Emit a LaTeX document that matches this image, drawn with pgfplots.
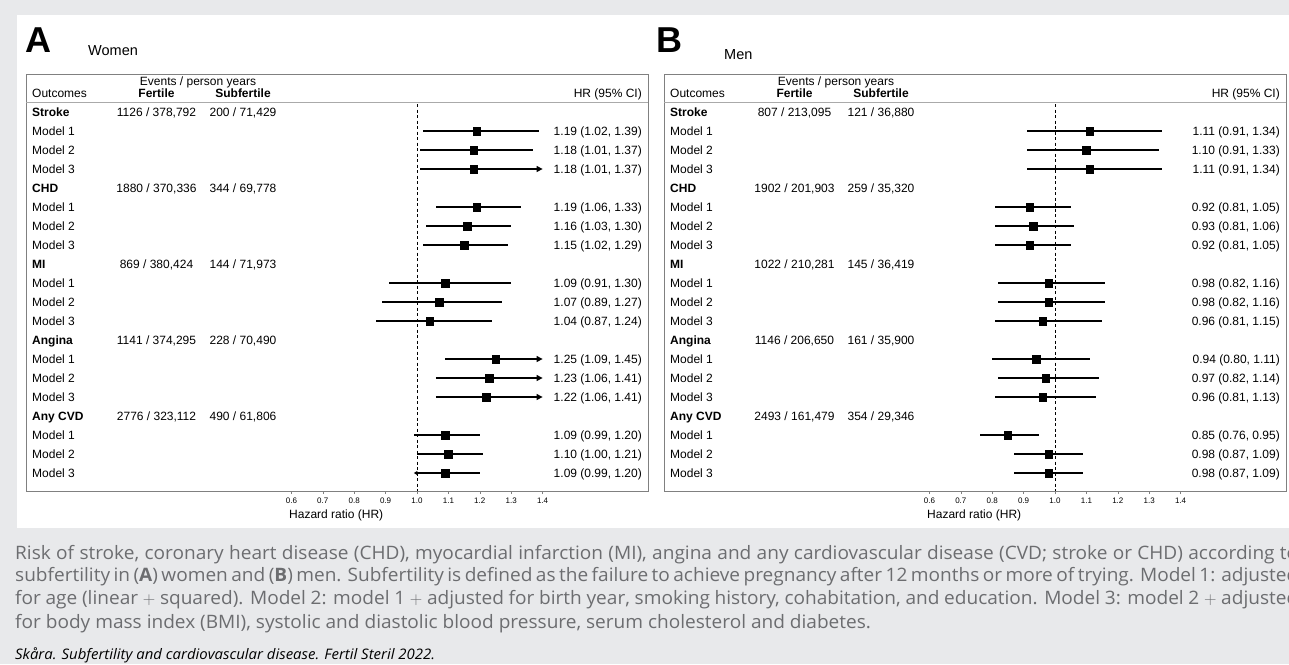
\documentclass[border=0pt]{standalone}
\usepackage{pgfplots}
\pgfplotsset{compat=1.18}
\usepackage{pgfplotstable}
\usepackage{fontspec}
\setmainfont{Liberation Sans}
\newfontfamily\capfont[FakeStretch=1.03]{Open Sans}
\usetikzlibrary{arrows.meta}
\definecolor{bg}{RGB}{232,233,235}
\definecolor{boxgray}{RGB}{128,128,128}
\definecolor{sepgray}{RGB}{170,170,170}
\definecolor{captext}{RGB}{108,109,112}

% ---------- Women (A) ----------
\pgfplotstableread{
y hr lo hi
-1 1.19 1.02 1.39
-2 1.18 1.01 1.37
-3 1.18 1.01 1.37
-5 1.19 1.06 1.33
-6 1.16 1.03 1.30
-7 1.15 1.02 1.29
-9 1.09 0.91 1.30
-10 1.07 0.89 1.27
-11 1.04 0.87 1.24
-13 1.25 1.09 1.45
-14 1.23 1.06 1.41
-15 1.22 1.06 1.41
-17 1.09 0.99 1.20
-18 1.10 1.00 1.21
-19 1.09 0.99 1.20
}\allA
% rows whose CI is drawn as a plain line (others are drawn with arrows)
\pgfplotstableread{
y hr lo hi
-1 1.19 1.02 1.39
-2 1.18 1.01 1.37
-5 1.19 1.06 1.33
-6 1.16 1.03 1.30
-7 1.15 1.02 1.29
-9 1.09 0.91 1.30
-10 1.07 0.89 1.27
-11 1.04 0.87 1.24
-17 1.09 0.99 1.20
-18 1.10 1.00 1.21
}\ciA
% ---------- Men (B) ----------
\pgfplotstableread{
y hr lo hi
-1 1.11 0.91 1.34
-2 1.10 0.91 1.33
-3 1.11 0.91 1.34
-5 0.92 0.81 1.05
-6 0.93 0.81 1.06
-7 0.92 0.81 1.05
-9 0.98 0.82 1.16
-10 0.98 0.82 1.16
-11 0.96 0.81 1.15
-13 0.94 0.80 1.11
-14 0.97 0.82 1.14
-15 0.96 0.81 1.13
-17 0.85 0.76 0.95
-18 0.98 0.87 1.09
-19 0.98 0.87 1.09
}\allB

\pgfplotsset{forest/.style={
  anchor=south west, scale only axis, width=622pt, height=417pt,
  xmin=-0.24522, xmax=1.73567, ymin=-19.947, ymax=2,
  axis line style={draw=boxgray, line width=0.9pt},
  ytick=\empty,
  xtick={0.6,0.7,0.8,0.9,1.0,1.1,1.2,1.3,1.4},
  xticklabels={0.6,0.7,0.8,0.9,1.0,1.1,1.2,1.3,1.4},
  xtick pos=bottom, tick align=outside, major tick length=3pt,
  tick style={draw=boxgray, line width=0.6pt},
  xticklabel style={font=\fontsize{8}{10}\selectfont, yshift=-0.5pt, text=black},
  clip=false,
}}
\pgfplotsset{cibar/.style={only marks, mark=none, forget plot,
  error bars/.cd, x dir=both, x explicit, error mark=none,
  error bar style={black, line width=1.1pt}}}
\pgfplotsset{hrmark/.style={only marks, mark=square*, mark size=3.75pt,
  mark options={fill=black, draw=none}}}
\pgfplotsset{arr/.style={black, line width=1.1pt, -{Triangle[length=6pt,width=6pt]}, forget plot}}
\pgfplotsset{larr/.style={black, line width=1.1pt, {Triangle[length=3.5pt,width=4pt]}-, forget plot}}

\newcommand\TC[3]{\node[anchor=base, inner sep=0pt, font=\fontsize{12}{14}\selectfont] at (#1pt,{(547.7-19*(#2))*1pt}) {#3};}
\newcommand\TR[3]{\node[anchor=base east, inner sep=0pt, font=\fontsize{12}{14}\selectfont] at (#1pt,{(547.7-19*(#2))*1pt}) {#3};}

\begin{document}
\begin{tikzpicture}
\path[use as bounding box, clip] (0,0) rectangle (1289pt,664pt);
\fill[bg] (0,0) rectangle (1289pt,664pt);
\fill[white] (17pt,136pt) rectangle (1300pt,649pt);

% ================= Panel A =================
\begin{axis}[forest, at={(26pt,173pt)}]
\draw[sepgray, line width=0.8pt] (axis cs:-0.24522,0.526) -- (axis cs:1.73567,0.526);
\draw[black, line width=0.8pt, dash pattern=on 3pt off 2.5pt] (axis cs:1,0.42) -- (axis cs:1,-19.947);
\addplot[cibar] table[x=hr, y=y, x error plus expr=\thisrow{hi}-\thisrow{hr}, x error minus expr=\thisrow{hr}-\thisrow{lo}] {\ciA};
\addplot[arr] coordinates {(1.01,-3) (1.40,-3)};
\addplot[arr] coordinates {(1.09,-13) (1.40,-13)};
\addplot[arr] coordinates {(1.06,-14) (1.40,-14)};
\addplot[arr] coordinates {(1.06,-15) (1.40,-15)};
\addplot[larr] coordinates {(0.99,-19) (1.20,-19)};
\addplot[hrmark] table[x=hr, y=y] {\allA};
\end{axis}

% ================= Panel B =================
\begin{axis}[forest, at={(664pt,173pt)}]
\draw[sepgray, line width=0.8pt] (axis cs:-0.24522,0.526) -- (axis cs:1.73567,0.526);
\draw[black, line width=0.8pt, dash pattern=on 3pt off 2.5pt] (axis cs:1,0.42) -- (axis cs:1,-19.947);
\addplot[cibar] table[x=hr, y=y, x error plus expr=\thisrow{hi}-\thisrow{hr}, x error minus expr=\thisrow{hr}-\thisrow{lo}] {\allB};
\addplot[hrmark] table[x=hr, y=y] {\allB};
\end{axis}

% ---------- titles ----------
\node[anchor=base west, inner sep=0pt, font=\fontsize{36}{40}\selectfont\bfseries] at (25pt,611pt) {A};
\node[anchor=base west, inner sep=0pt, font=\fontsize{14.5}{17}\selectfont] at (88pt,608pt) {Women};
\node[anchor=base west, inner sep=0pt, font=\fontsize{36}{40}\selectfont\bfseries] at (656.5pt,611pt) {B};
\node[anchor=base west, inner sep=0pt, font=\fontsize{14.5}{17}\selectfont] at (724pt,604pt) {Men};

% ---------- headers and row labels ----------
\foreach \ox in {0,638} {
  \node[anchor=base, inner sep=0pt, font=\fontsize{12}{14}\selectfont] at ({(198+\ox)*1pt},578pt) {Events / person years};
  \node[anchor=base west, inner sep=0pt, font=\fontsize{12}{14}\selectfont] at ({(32+\ox)*1pt},566.7pt) {Outcomes};
  \node[anchor=base, inner sep=0pt, font=\fontsize{12}{14}\selectfont\bfseries] at ({(156.5+\ox)*1pt},566.7pt) {Fertile};
  \node[anchor=base, inner sep=0pt, font=\fontsize{12}{14}\selectfont\bfseries] at ({(243+\ox)*1pt},566.7pt) {Subfertile};
  \node[anchor=base east, inner sep=0pt, font=\fontsize{12}{14}\selectfont] at ({(642+\ox)*1pt},566.7pt) {HR (95\% CI)};
  \node[anchor=base west, inner sep=0pt, font=\fontsize{12}{14}\selectfont] at ({(289+\ox)*1pt},146pt) {Hazard ratio (HR)};
  \foreach \g/\name in {0/Stroke,4/CHD,8/MI,12/Angina,16/Any CVD} {
    \node[anchor=base west, inner sep=0pt, font=\fontsize{12}{14}\selectfont\bfseries] at ({(32+\ox)*1pt},{(547.7-19*\g)*1pt}) {\name};
    \foreach \m in {1,2,3} {
      \node[anchor=base west, inner sep=0pt, font=\fontsize{12}{14}\selectfont] at ({(32+\ox)*1pt},{(547.7-19*(\g+\m))*1pt}) {Model \m};
    }
  }
}

% ---------- events A ----------
\TC{156.5}{0}{1126 / 378,792}  \TC{243}{0}{200 / 71,429}
\TC{156.5}{4}{1880 / 370,336}  \TC{243}{4}{344 / 69,778}
\TC{156.5}{8}{869 / 380,424}   \TC{243}{8}{144 / 71,973}
\TC{156.5}{12}{1141 / 374,295} \TC{243}{12}{228 / 70,490}
\TC{156.5}{16}{2776 / 323,112} \TC{243}{16}{490 / 61,806}
% ---------- events B ----------
\TC{794.5}{0}{807 / 213,095}   \TC{881}{0}{121 / 36,880}
\TC{794.5}{4}{1902 / 201,903}  \TC{881}{4}{259 / 35,320}
\TC{794.5}{8}{1022 / 210,281}  \TC{881}{8}{145 / 36,419}
\TC{794.5}{12}{1146 / 206,650} \TC{881}{12}{161 / 35,900}
\TC{794.5}{16}{2493 / 161,479} \TC{881}{16}{354 / 29,346}

% ---------- HR text A ----------
\TR{642}{1}{1.19 (1.02, 1.39)}
\TR{642}{2}{1.18 (1.01, 1.37)}
\TR{642}{3}{1.18 (1.01, 1.37)}
\TR{642}{5}{1.19 (1.06, 1.33)}
\TR{642}{6}{1.16 (1.03, 1.30)}
\TR{642}{7}{1.15 (1.02, 1.29)}
\TR{642}{9}{1.09 (0.91, 1.30)}
\TR{642}{10}{1.07 (0.89, 1.27)}
\TR{642}{11}{1.04 (0.87, 1.24)}
\TR{642}{13}{1.25 (1.09, 1.45)}
\TR{642}{14}{1.23 (1.06, 1.41)}
\TR{642}{15}{1.22 (1.06, 1.41)}
\TR{642}{17}{1.09 (0.99, 1.20)}
\TR{642}{18}{1.10 (1.00, 1.21)}
\TR{642}{19}{1.09 (0.99, 1.20)}
% ---------- HR text B ----------
\TR{1280}{1}{1.11 (0.91, 1.34)}
\TR{1280}{2}{1.10 (0.91, 1.33)}
\TR{1280}{3}{1.11 (0.91, 1.34)}
\TR{1280}{5}{0.92 (0.81, 1.05)}
\TR{1280}{6}{0.93 (0.81, 1.06)}
\TR{1280}{7}{0.92 (0.81, 1.05)}
\TR{1280}{9}{0.98 (0.82, 1.16)}
\TR{1280}{10}{0.98 (0.82, 1.16)}
\TR{1280}{11}{0.96 (0.81, 1.15)}
\TR{1280}{13}{0.94 (0.80, 1.11)}
\TR{1280}{14}{0.97 (0.82, 1.14)}
\TR{1280}{15}{0.96 (0.81, 1.13)}
\TR{1280}{17}{0.85 (0.76, 0.95)}
\TR{1280}{18}{0.98 (0.87, 1.09)}
\TR{1280}{19}{0.98 (0.87, 1.09)}

% ---------- caption (justified lines run past the cropped right edge, as in the reference) ----------
\begin{scope}[every node/.style={anchor=base west, inner sep=0pt, text=captext, font=\capfont\fontsize{18.5}{21}\selectfont}]
\node at (15pt,105pt) {\makebox[1283pt][s]{Risk of stroke, coronary heart disease (CHD), myocardial infarction (MI), angina and any cardiovascular disease (CVD; stroke or CHD) according to}};
\node at (15pt,82.5pt) {\makebox[1283pt][s]{subfertility in (\textbf{A}) women and (\textbf{B}) men. Subfertility is defined as the failure to achieve pregnancy after 12 months or more of trying. Model 1: adjusted}};
\node at (15pt,59.5pt) {\makebox[1283pt][s]{for age (linear ${+}$ squared). Model 2: model 1 ${+}$ adjusted for birth year, smoking history, cohabitation, and education. Model 3: model 2 ${+}$ adjusted}};
\node at (15pt,36pt) {for body mass index (BMI), systolic and diastolic blood pressure, serum cholesterol and diabetes.};
\node[text=black, font=\capfont\itshape\fontsize{14.5}{16}\selectfont] at (15pt,4.5pt) {Skåra. Subfertility and cardiovascular disease. Fertil Steril 2022.};
\end{scope}
\end{tikzpicture}
\end{document}
